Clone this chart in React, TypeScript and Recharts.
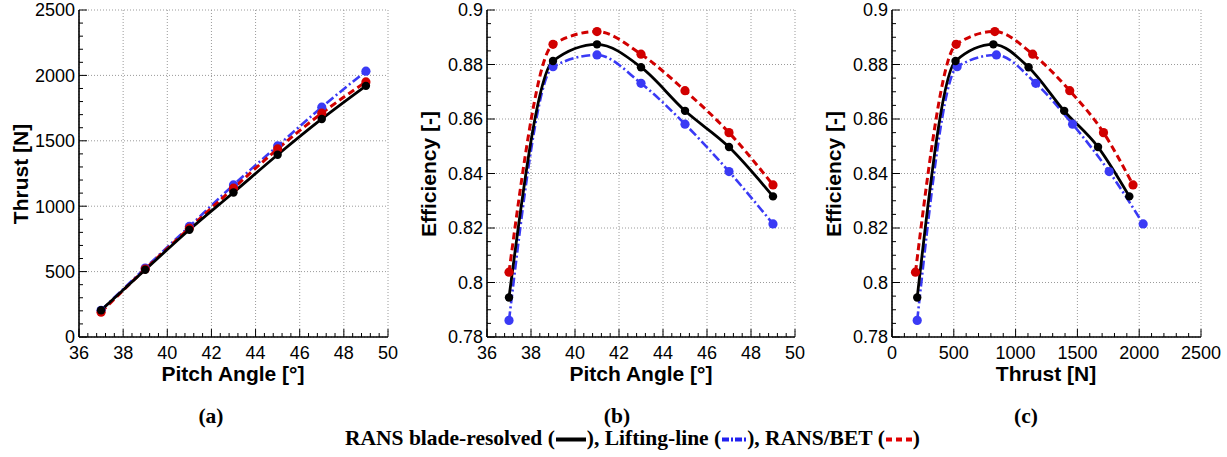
import React from 'react';
import { LineChart, Line, XAxis, YAxis, CartesianGrid } from 'recharts';

const pitch = [37, 39, 41, 43, 45, 47, 49];
const thrustRans = [204, 514, 820, 1105, 1393, 1667, 1920];
const thrustLL = [204, 527, 845, 1163, 1461, 1757, 2032];
const thrustBet = [190, 519, 832, 1138, 1438, 1711, 1950];
const effRans = [0.7945, 0.8813, 0.8874, 0.879, 0.863, 0.8497, 0.8316];
const effLL = [0.7861, 0.8792, 0.8835, 0.8731, 0.8581, 0.8407, 0.8215];
const effBet = [0.8038, 0.8874, 0.8921, 0.8838, 0.8704, 0.855, 0.8358];

const pitchTicks = [36, 38, 40, 42, 44, 46, 48, 50];
const thrustTicks = [0, 500, 1000, 1500, 2000, 2500];
const effTicks = [0.78, 0.8, 0.82, 0.84, 0.86, 0.88, 0.9];
const pitchMinor = [
  36, 36.4, 36.8, 37.2, 37.6, 38, 38.4, 38.8, 39.2, 39.6, 40, 40.4, 40.8, 41.2, 41.6, 42, 42.4, 42.8, 43.2,
  43.6, 44, 44.4, 44.8, 45.2, 45.6, 46, 46.4, 46.8, 47.2, 47.6, 48, 48.4, 48.8, 49.2, 49.6, 50,
];
const thrustMinor = [
  0, 100, 200, 300, 400, 500, 600, 700, 800, 900, 1000, 1100, 1200, 1300, 1400, 1500, 1600, 1700, 1800,
  1900, 2000, 2100, 2200, 2300, 2400, 2500,
];
const effMinor = [
  0.78, 0.785, 0.79, 0.795, 0.8, 0.805, 0.81, 0.815, 0.82, 0.825, 0.83, 0.835, 0.84, 0.845, 0.85, 0.855,
  0.86, 0.865, 0.87, 0.875, 0.88, 0.885, 0.89, 0.895, 0.9,
];

const thrustByPitch = pitch.map((p, i) => ({ pitch: p, rans: thrustRans[i], ll: thrustLL[i], bet: thrustBet[i] }));
const effByPitch = pitch.map((p, i) => ({ pitch: p, rans: effRans[i], ll: effLL[i], bet: effBet[i] }));
const effByThrust = {
  rans: thrustRans.map((t, i) => ({ thrust: t, rans: effRans[i] })),
  ll: thrustLL.map((t, i) => ({ thrust: t, ll: effLL[i] })),
  bet: thrustBet.map((t, i) => ({ thrust: t, bet: effBet[i] })),
};

const SANS = '"Liberation Sans", Arial, sans-serif';
const SERIF = '"Liberation Serif", "Times New Roman", serif';

// drawn in this order, black on top
const series = [
  { key: 'll', color: '#3a3af5', width: 2.6, dash: '9 3 2 3', r: 4.6 },
  { key: 'bet', color: '#d10000', width: 3, dash: '7 4', r: 4.6 },
  { key: 'rans', color: '#000000', width: 2.8, dash: undefined, r: 4.2 },
];

const frame = { stroke: '#000', strokeWidth: 1.6 };
const noLabel = () => <g />;
const X_GAP = 9;
const Y_GAP = 4;

const isMajor = (majors: number[], v: number) => majors.some((m) => Math.abs(m - v) < 1e-9);

// every minor value is a tick: majors get a label and a long inward mark, the rest a short mark
const makeXTick = (majors: number[]) => ({ x, y, payload }: any) => {
  const major = isMajor(majors, payload.value);
  return (
    <g>
      {major && (
        <text x={x} y={y} dy="0.71em" textAnchor="middle" fill="#000" fontSize={18} fontFamily={SANS}>
          {payload.value}
        </text>
      )}
      <line x1={x} y1={y - X_GAP} x2={x} y2={y - X_GAP - (major ? 8 : 4)} stroke="#000" strokeWidth={1} />
    </g>
  );
};
const makeYTick = (majors: number[], fmt?: (v: number) => string) => ({ x, y, payload }: any) => {
  const major = isMajor(majors, payload.value);
  return (
    <g>
      {major && (
        <text x={x} y={y} dy="0.355em" textAnchor="end" fill="#000" fontSize={18} fontFamily={SANS}>
          {fmt ? fmt(payload.value) : payload.value}
        </text>
      )}
      <line x1={x + Y_GAP} y1={y} x2={x + Y_GAP + (major ? 8 : 4)} y2={y} stroke="#000" strokeWidth={1} />
    </g>
  );
};

type PanelProps = {
  left: number;
  plotLeft: number;
  right: number;
  data?: any[];
  perSeries?: Record<string, any[]>;
  xKey: string;
  xDomain: [number, number];
  xTicks: number[];
  xMinor: number[];
  yDomain: [number, number];
  yTicks: number[];
  yMinor: number[];
  yFormat?: (v: number) => string;
};

const Panel = (p: PanelProps) => (
  <div style={{ position: 'absolute', left: p.left, top: 0 }}>
    <LineChart width={412} height={400} data={p.data} margin={{ top: 10, right: p.right, bottom: 0, left: 0 }}>
      <XAxis xAxisId="main" type="number" dataKey={p.xKey} domain={p.xDomain} ticks={p.xMinor} allowDataOverflow
        height={63} tickSize={0} tickMargin={X_GAP} tickLine={false} axisLine={frame}
        tick={makeXTick(p.xTicks)} interval={0} />
      <YAxis yAxisId="main" type="number" domain={p.yDomain} ticks={p.yMinor} allowDataOverflow
        width={p.plotLeft} tickSize={0} tickMargin={Y_GAP} tickLine={false} axisLine={frame}
        tick={makeYTick(p.yTicks, p.yFormat)} interval={0} />
      <XAxis xAxisId="top" orientation="top" type="number" domain={p.xDomain} height={0} tick={noLabel}
        tickLine={false} axisLine={frame} />
      <YAxis yAxisId="right" orientation="right" type="number" domain={p.yDomain} width={0} tick={noLabel}
        tickLine={false} axisLine={frame} />
      <CartesianGrid xAxisId="main" yAxisId="main" horizontalValues={p.yTicks} verticalValues={p.xTicks}
        stroke="#9a9a9a" strokeDasharray="1 2" strokeWidth={1} />
      {series.map((s) => (
        <Line
          key={s.key}
          xAxisId="main"
          yAxisId="main"
          data={p.perSeries ? p.perSeries[s.key] : undefined}
          dataKey={s.key}
          type="monotone"
          stroke={s.color}
          strokeWidth={s.width}
          strokeDasharray={s.dash}
          dot={{ r: s.r, fill: s.color, stroke: s.color, strokeWidth: 0, strokeDasharray: '' }}
          isAnimationActive={false}
        />
      ))}
    </LineChart>
  </div>
);

const title = (text: string, cx: number, cy: number, vertical = false) => (
  <div
    style={{
      position: 'absolute', left: cx, top: cy, whiteSpace: 'nowrap',
      transform: `translate(-50%, -50%)${vertical ? ' rotate(-90deg)' : ''}`,
      font: `bold 21px ${SANS}`, color: '#000',
    }}
  >
    {text}
  </div>
);

const caption = (text: string, cx: number) => (
  <div style={{ position: 'absolute', left: cx, top: 416, transform: 'translate(-50%, -50%)', font: `bold 21.5px ${SERIF}` }}>
    {text}
  </div>
);

const Sample = ({ color, dash, w }: { color: string; dash?: string; w: number }) => (
  <svg width={w} height={10} style={{ verticalAlign: 'middle', margin: '0 1px' }}>
    <line x1={0} y1={5} x2={w} y2={5} stroke={color} strokeWidth={4} strokeDasharray={dash} />
  </svg>
);

const fmtEff = (v: number) => String(Math.round(v * 100) / 100);

export default function App() {
  return (
    <div style={{ position: 'absolute', left: 0, top: 0, width: 1227, height: 457, background: '#fff', overflow: 'hidden' }}>
      <Panel left={0} plotLeft={79} right={24} data={thrustByPitch} xKey="pitch" xDomain={[36, 50]}
        xTicks={pitchTicks} xMinor={pitchMinor} yDomain={[0, 2500]} yTicks={thrustTicks} yMinor={thrustMinor} />
      <Panel left={410} plotLeft={77} right={27} data={effByPitch} xKey="pitch" xDomain={[36, 50]}
        xTicks={pitchTicks} xMinor={pitchMinor} yDomain={[0.78, 0.9]} yTicks={effTicks} yMinor={effMinor}
        yFormat={fmtEff} />
      <Panel left={815} plotLeft={77} right={26} perSeries={effByThrust} xKey="thrust" xDomain={[0, 2500]}
        xTicks={thrustTicks} xMinor={thrustMinor} yDomain={[0.78, 0.9]} yTicks={effTicks} yMinor={effMinor}
        yFormat={fmtEff} />

      {title('Thrust [N]', 21, 174, true)}
      {title('Pitch Angle [°]', 233, 374)}
      {title('Efficiency [-]', 429, 174, true)}
      {title('Pitch Angle [°]', 641, 374)}
      {title('Efficiency [-]', 834, 174, true)}
      {title('Thrust [N]', 1046, 374)}

      {caption('(a)', 211)}
      {caption('(b)', 617)}
      {caption('(c)', 1026)}

      <div style={{ position: 'absolute', left: 345, top: 438, transform: 'translateY(-50%)', whiteSpace: 'nowrap', font: `bold 21.5px ${SERIF}`, color: '#000' }}>
        RANS blade-resolved (<Sample color="#000" w={30} />), Lifting-line (<Sample color="#2020f0" dash="7 2 2 2" w={24} />), RANS/BET (<Sample color="#e00000" dash="6 4" w={26} />)
      </div>
    </div>
  );
}
